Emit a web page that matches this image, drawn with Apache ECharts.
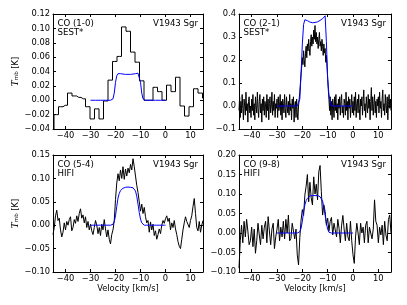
<!DOCTYPE html>
<html><head><meta charset="utf-8">
<script src="https://cdn.jsdelivr.net/npm/echarts@6/dist/echarts.min.js"></script>
<style>html,body{margin:0;padding:0;background:#fff}#c{width:407px;height:305px}</style>
</head><body><div id="c"></div>
<script>
// ---------- data ----------
const xTicks = [-40, -30, -20, -10, 0, 10];
const lineNames = ['CO (1-0)', 'CO (2-1)', 'CO (5-4)', 'CO (9-8)'];
const telescopes = ['SEST*', 'SEST*', 'HIFI', 'HIFI'];
const starName = 'V1943 Sgr';
const yTitle = '{t|T}{s|mb} [K]';
const xTitle = 'Velocity [km/s]';
// y axis: [min, max, step, decimals]
const yTicks1 = [-0.04, 0.12, 0.02, 2];
const yTicks2 = [-0.1, 0.4, 0.1, 1];
const yTicks3 = [-0.10, 0.15, 0.05, 2];
const yTicks4 = [-0.10, 0.20, 0.05, 2];

// CO (1-0) SEST, histogram (bin centres start p1V0, width p1Dv)
const p1V0 = -45.5, p1Dv = 1.8;
const p1Obs = [-0.045, -0.02, -0.009, -0.007, 0.010, 0.006, 0.004, 0.002, -0.009, -0.026,
  -0.012, -0.026, -0.001, 0.028, 0.054, 0.061, 0.102, 0.096, 0.067, 0.053,
  0.027, 0.0, 0.0, 0.018, 0.012, 0.0, 0.021, 0.012, 0.032, -0.008,
  -0.022, -0.009, 0.016, 0.01, 0.003];

// CO (2-1) SEST
const p2V0 = -45, p2Dv = 0.25;
const p2Obs = [
  -0.02, 0.04, -0.05, 0.02, -0.03, 0.05, -0.01, -0.06, 0.03, 0.0, -0.04, 0.06, -0.02, 0.01, -0.07, 0.02, 0.04, -0.03, 0.0, -0.05,
  0.03, -0.02, 0.05, -0.04, 0.01, -0.06, 0.04, 0.0, -0.03, 0.06, -0.01, -0.05, 0.02, 0.05, -0.03, 0.01, -0.07, 0.03, -0.02, 0.04,
  -0.04, 0.02, 0.0, -0.05, 0.05, -0.02, 0.03, -0.06, 0.01, 0.04, -0.03, 0.0, 0.06, -0.04, 0.02, -0.02, 0.05, -0.05, 0.01, -0.01,
  0.03, -0.05, 0.04, -0.02, 0.0, 0.05, -0.04, 0.02, -0.06, 0.03, 0.01, -0.03, 0.05, -0.01, -0.05, 0.04, 0.0, -0.03, 0.02, -0.04,
  0.05, -0.02, 0.01, -0.06, 0.03, -0.01, 0.04, -0.07, 0.0, 0.02, -0.05, 0.03, -0.03, -0.06, 0.0, 0.03, 0.06, 0.10, 0.14, 0.17,
  0.21, 0.18, 0.24, 0.20, 0.17, 0.23, 0.26, 0.21, 0.27, 0.24, 0.29, 0.25, 0.22, 0.28, 0.31, 0.26, 0.30, 0.27, 0.33, 0.29,
  0.35, 0.28, 0.32, 0.27, 0.30, 0.25, 0.29, 0.32, 0.26, 0.28, 0.24, 0.29, 0.26, 0.22, 0.27, 0.23, 0.25, 0.19, 0.22, 0.17,
  0.12, 0.07, 0.03, -0.02, 0.04, -0.04, 0.02, -0.06, 0.03, 0.0, -0.05, 0.04, -0.02, 0.05, -0.03, 0.01, -0.06, 0.03, -0.01, 0.04,
  -0.04, 0.02, 0.05, -0.03, 0.0, -0.05, 0.03, 0.01, -0.04, 0.06, -0.02, 0.02, -0.06, 0.04, -0.01, 0.03, -0.05, 0.0, 0.05, -0.03,
  0.02, -0.04, 0.04, -0.02, 0.06, -0.05, 0.01, 0.03, -0.03, 0.05, -0.01, -0.06, 0.03, 0.0, 0.04, -0.04, 0.02, 0.07, -0.02, 0.01,
  -0.05, 0.04, 0.0, -0.03, 0.05, -0.01, 0.03, -0.06, 0.02, 0.08, -0.02, 0.04, -0.04, 0.01, 0.05, -0.03, 0.02, -0.05, 0.03, 0.0,
  0.04, -0.03, 0.06, -0.01, 0.02, -0.05, 0.03, 0.07, -0.02, 0.01, -0.04, 0.05, 0.0, -0.03, 0.04, -0.06, 0.02, 0.05, -0.01, 0.03,
  -0.02];

// CO (5-4) HIFI
const p3V0 = -45, p3Dv = 0.5;
const p3Obs = [
  -0.02, -0.005, 0.02, 0.032, 0.01, 0.015, -0.01, -0.025, -0.015, 0.005,
  -0.01, 0.008, 0.0, 0.012, 0.018, -0.012, -0.005, 0.012, 0.004, 0.02,
  0.008, 0.025, 0.035, 0.015, 0.022, 0.005, 0.018, -0.005, 0.008, -0.01,
  0.002, -0.012, -0.02, -0.005, 0.01, 0.0, -0.018, -0.005, -0.022, 0.002,
  -0.01, 0.012, -0.008, -0.025, -0.01, -0.03, -0.04, -0.02, -0.01,
  0.01, 0.055, 0.09, 0.11, 0.095, 0.118, 0.1, 0.125, 0.098, 0.12,
  0.105, 0.122, 0.112, 0.13, 0.118, 0.142, 0.125, 0.105, 0.085, 0.07,
  0.05, 0.03, 0.045, 0.025, 0.038, 0.018, 0.005, 0.01, -0.015, 0.007,
  -0.01, 0.002, -0.022, -0.012, -0.03, -0.02, -0.008, -0.018, 0.0, 0.01,
  0.004, 0.014,
  0.02, 0.008, 0.015, -0.01, 0.005, -0.005, 0.01, -0.008, -0.02, -0.035,
  -0.045, -0.05, -0.03, -0.01, 0.005, 0.018, 0.008, 0.012, -0.005, 0.01,
  0.02, 0.04, 0.057, 0.025, -0.005, -0.012, 0.008, -0.015, 0.0, 0.01];

// CO (9-8) HIFI
const p4V0 = -45, p4Dv = 0.5;
const p4Obs = [
  -0.09, -0.02, 0.02, -0.025, 0.03, -0.01, 0.035, 0.005, -0.03, -0.02,
  0.015, -0.035, 0.01, -0.052, -0.02, 0.025, -0.005, -0.03, 0.02, -0.015,
  0.015, 0.03, -0.025, 0.042, 0.005, -0.03, 0.01, 0.025, -0.04, -0.01,
  0.01, 0.035, -0.02, 0.015, -0.01, 0.03, -0.015, 0.035, 0.0, 0.046,
  -0.02, -0.014, 0.025, 0.03, -0.015, 0.01, -0.056, -0.082, -0.012, 0.033,
  0.06, 0.045, 0.097, 0.12, 0.15, 0.08, 0.13, 0.09, 0.072, 0.144,
  0.1, 0.125, 0.085, 0.157, 0.173, 0.106, 0.046, 0.072, 0.055, 0.02,
  0.038, 0.005, 0.03, 0.04, -0.005, 0.025, 0.03, -0.01, 0.035, 0.012,
  -0.025, 0.02, 0.045, 0.01, -0.02, 0.025, -0.01, -0.02, 0.03, -0.02,
  -0.056, -0.078, -0.01, 0.025, 0.0, -0.03, 0.025, 0.0, 0.015, -0.025,
  0.02, 0.03, -0.025, 0.015, 0.02, -0.015, 0.01, 0.085, 0.03, 0.02,
  -0.025, 0.015, -0.005, 0.02, -0.03, 0.03, -0.005, -0.02, 0.035, 0.046,
  0.0];

// models (blue), -30 .. 0 km/s
const modelV0 = -30, modelDv = 0.5;
const model1 = [0,0,0,0,0,0,0,0,0,0,0,0,0,0,0,0,0,0,
  0.002, 0.01, 0.025, 0.034, 0.037, 0.0375, 0.037, 0.0368, 0.0365, 0.0362, 0.036, 0.036, 0.036,
  0.036, 0.036, 0.0362, 0.0365, 0.0368, 0.037, 0.0373, 0.0376, 0.036, 0.025, 0.01, 0.002,
  0,0,0,0,0,0,0,0,0,0,0,0,0,0,0,0,0,0];
const model2 = [0,0,0,0,0,0,0,0,0,0,0,0,0,0,0,0,0,0,
  0.03, 0.14, 0.27, 0.355, 0.375, 0.374, 0.371, 0.368, 0.365, 0.363, 0.362, 0.362, 0.363,
  0.364, 0.366, 0.369, 0.372, 0.376, 0.38, 0.386, 0.392, 0.28, 0.12, 0.05, 0.02,
  0,0,0,0,0,0,0,0,0,0,0,0,0,0,0,0,0,0];
const model3 = [0,0,0,0,0,0,0,0,0,0,0,0,0,0,0,0,0,0,
  0.002, 0.008, 0.02, 0.04, 0.058, 0.068, 0.074, 0.077, 0.079, 0.08, 0.081, 0.0815, 0.0815,
  0.0813, 0.081, 0.0805, 0.08, 0.078, 0.073, 0.062, 0.045, 0.027, 0.013, 0.005, 0.001,
  0,0,0,0,0,0,0,0,0,0,0,0,0,0,0,0,0,0];
const model4 = [0,0,0,0,0,0,0,0,0,0,0,0,0,0,0,0,0,0,
  0.003, 0.012, 0.03, 0.055, 0.072, 0.083, 0.089, 0.093, 0.095, 0.096, 0.096, 0.096, 0.096,
  0.096, 0.096, 0.095, 0.093, 0.09, 0.082, 0.065, 0.045, 0.025, 0.01, 0.002, 0.0,
  0,0,0,0,0,0,0,0,0,0,0,0,0,0,0,0,0,0];

// ---------- build ----------
function pairs(v0, dv, arr) { return arr.map((y, i) => [+(v0 + i * dv).toFixed(3), y]); }
const obs = [pairs(p1V0, p1Dv, p1Obs), pairs(p2V0, p2Dv, p2Obs), pairs(p3V0, p3Dv, p3Obs), pairs(p4V0, p4Dv, p4Obs)];
const models = [model1, model2, model3, model4].map(m => pairs(modelV0, modelDv, m));
const yT = [yTicks1, yTicks2, yTicks3, yTicks4];

const FONT = 'DejaVu Sans';
const grids = [
  { left: 53, top: 14, width: 150, height: 115 },
  { left: 239, top: 14, width: 152, height: 115 },
  { left: 53, top: 155, width: 150, height: 117 },
  { left: 239, top: 155, width: 152, height: 117 }
];
const minus = s => s.replace('-', '\u2212');
const xAxis = [], yAxis = [], series = [], graphic = [];
const lineAx = { show: true, onZero: false, lineStyle: { color: '#000', width: 1 } };
grids.forEach((g, i) => {
  const bottomRow = i >= 2, leftCol = i % 2 === 0;
  xAxis.push({
    type: 'value', gridIndex: i, min: -45, max: 15, position: 'bottom',
    axisLine: lineAx, splitLine: { show: false },
    axisTick: { inside: true, length: 3, customValues: xTicks, lineStyle: { color: '#000' } },
    axisLabel: { customValues: xTicks, formatter: v => minus(String(v)), fontFamily: FONT, fontSize: 8.3, color: '#000', margin: 3 },
    name: bottomRow ? xTitle : '', nameLocation: 'middle', nameGap: 13,
    nameTextStyle: { fontFamily: FONT, fontSize: 8.3, color: '#000' }
  });
  xAxis.push({
    type: 'value', gridIndex: i, min: -45, max: 15, position: 'top',
    axisLine: lineAx, splitLine: { show: false },
    axisTick: { inside: true, length: 3, customValues: xTicks, lineStyle: { color: '#000' } },
    axisLabel: { show: false }
  });
  const [mn, mx, st, dec] = yT[i];
  yAxis.push({
    type: 'value', gridIndex: i, min: mn, max: mx, interval: st, position: 'left',
    axisLine: lineAx, splitLine: { show: false },
    axisTick: { inside: true, length: 3, lineStyle: { color: '#000' } },
    axisLabel: { formatter: v => minus((Math.abs(v) < 1e-9 ? 0 : v).toFixed(dec)), fontFamily: FONT, fontSize: 8.3, color: '#000', margin: 3 },
    name: leftCol ? yTitle : '', nameLocation: 'middle', nameRotate: 90, nameGap: 33,
    nameTextStyle: {
      fontFamily: FONT, fontSize: 8.3, color: '#000',
      rich: {
        t: { fontFamily: 'DejaVu Serif', fontStyle: 'italic', fontSize: 9, color: '#000' },
        s: { fontFamily: FONT, fontSize: 5.5, color: '#000', verticalAlign: 'bottom', padding: [3, 0, 0, 0] }
      }
    }
  });
  yAxis.push({
    type: 'value', gridIndex: i, min: mn, max: mx, interval: st, position: 'right',
    axisLine: lineAx, splitLine: { show: false },
    axisTick: { inside: true, length: 3, lineStyle: { color: '#000' } },
    axisLabel: { show: false }
  });
  series.push({
    type: 'line', xAxisIndex: 2 * i, yAxisIndex: 2 * i, data: obs[i],
    step: i === 0 ? 'middle' : false, symbol: 'none', clip: true,
    lineStyle: { color: '#000', width: 1 }, silent: true
  });
  series.push({
    type: 'line', xAxisIndex: 2 * i, yAxisIndex: 2 * i, data: models[i],
    symbol: 'none', clip: true, lineStyle: { color: '#0000ff', width: 1 }, silent: true
  });
  const tx = g.left + 4.5, ty = g.top + 10;
  const txtStyle = (text, align) => ({ text, font: '8.6px "DejaVu Sans"', fill: '#000', align, textAlign: align, verticalAlign: 'middle', textVerticalAlign: 'middle' });
  graphic.push({ type: 'text', x: tx, y: ty, style: txtStyle(lineNames[i], 'left'), z: 100 });
  graphic.push({ type: 'text', x: tx, y: ty + 8.7, style: txtStyle(telescopes[i], 'left'), z: 100 });
  graphic.push({ type: 'text', x: g.left + g.width - 5, y: ty, style: txtStyle(starName, 'right'), z: 100 });
});

const chart = echarts.init(document.getElementById('c'), null, { renderer: 'canvas' });
chart.setOption({
  animation: false,
  backgroundColor: '#fff',
  grid: grids.map(g => Object.assign({ containLabel: false }, g)),
  xAxis, yAxis, series, graphic
});
</script></body></html>
